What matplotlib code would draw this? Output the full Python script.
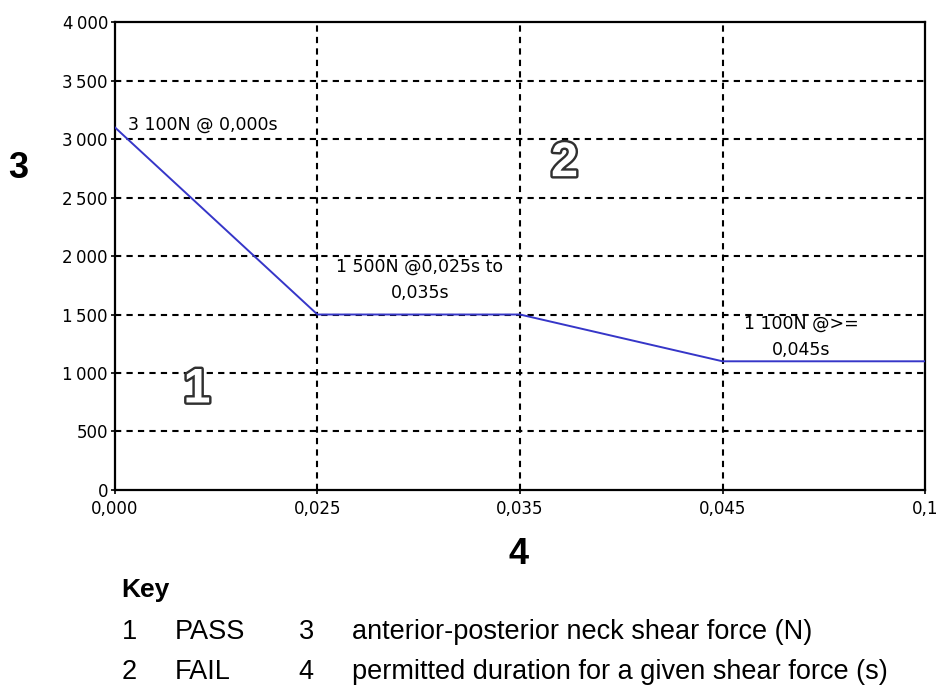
import matplotlib.pyplot as plt
import matplotlib.patheffects as pe

# chart values
x_labels = ['0,000', '0,025', '0,035', '0,045', '0,1']
force = [3100, 1500, 1500, 1100, 1100]
y_ticks = [0, 500, 1000, 1500, 2000, 2500, 3000, 3500, 4000]
y_labels = ['0', '500', '1\u2009000', '1\u2009500', '2\u2009000', '2\u2009500', '3\u2009000', '3\u2009500', '4\u2009000']

plt.rcParams['font.family'] = ['Liberation Sans', 'DejaVu Sans']
chart_font = ['DejaVu Sans']

fig = plt.figure(figsize=(9.42, 6.92), dpi=100)
ax = fig.add_axes([0.122, 0.292, 0.860, 0.676])

xs = range(len(x_labels))
ax.plot(xs, force, color='#3636c8', lw=1.4, zorder=3)

ax.set_xlim(0, len(x_labels) - 1)
ax.set_ylim(0, 4000)
ax.set_xticks(list(xs))
ax.set_xticklabels(x_labels, fontsize=12, family=chart_font)
ax.set_yticks(y_ticks)
ax.set_yticklabels(y_labels, fontsize=12, family=chart_font)
ax.tick_params(direction='inout', length=6, width=1.2, pad=2)
ax.tick_params(axis='x', pad=4)

# dashed grid
for y in y_ticks[1:-1]:
    ax.axhline(y, color='black', lw=1.5, ls=(0, (3, 2.5)), zorder=1)
for x in list(xs)[1:-1]:
    ax.axvline(x, color='black', lw=1.5, ls=(0, (3, 2.5)), zorder=1)

for s in ax.spines.values():
    s.set_linewidth(1.6)
    s.set_color('black')

# annotations on the curve
ax.text(0.065, 3120, '3 100N @ 0,000s', fontsize=12.5, family=chart_font, ha='left', va='center')
ax.text(1.506, 1795, '1 500N @0,025s to\n0,035s', fontsize=12.5, family=chart_font,
        ha='center', va='center', linespacing=1.6)
ax.text(3.39, 1308, '1 100N @>=\n0,045s', fontsize=12.5, family=chart_font,
        ha='center', va='center', linespacing=1.6)

# region numbers, outlined
outline = [pe.withStroke(linewidth=3.5, foreground='#303030')]
ax.text(0.405, 855, '1', fontsize=35, fontweight='bold', color='white', ha='center', va='center',
        path_effects=outline)
ax.text(2.22, 2790, '2', fontsize=35, fontweight='bold', color='white', ha='center', va='center',
        path_effects=outline)

# axis numbers
fig.text(0.019, 0.757, '3', fontsize=26, fontweight='bold', ha='center', va='center')
fig.text(0.550, 0.198, '4', fontsize=26, fontweight='bold', ha='center', va='center')

# key
fig.text(0.129, 0.147, 'Key', fontsize=19, fontweight='bold', ha='left', va='center')
rows = [('1', 'PASS', '3', 'anterior-posterior neck shear force (N)'),
        ('2', 'FAIL', '4', 'permitted duration for a given shear force (s)')]
for i, (a, b, c, d) in enumerate(rows):
    yy = 0.087 - i * 0.058
    fig.text(0.129, yy, a, fontsize=19.5, ha='left', va='center')
    fig.text(0.186, yy, b, fontsize=19.5, ha='left', va='center')
    fig.text(0.317, yy, c, fontsize=19.5, ha='left', va='center')
    fig.text(0.374, yy, d, fontsize=19.5, ha='left', va='center')

plt.savefig('out.png', dpi=100)
